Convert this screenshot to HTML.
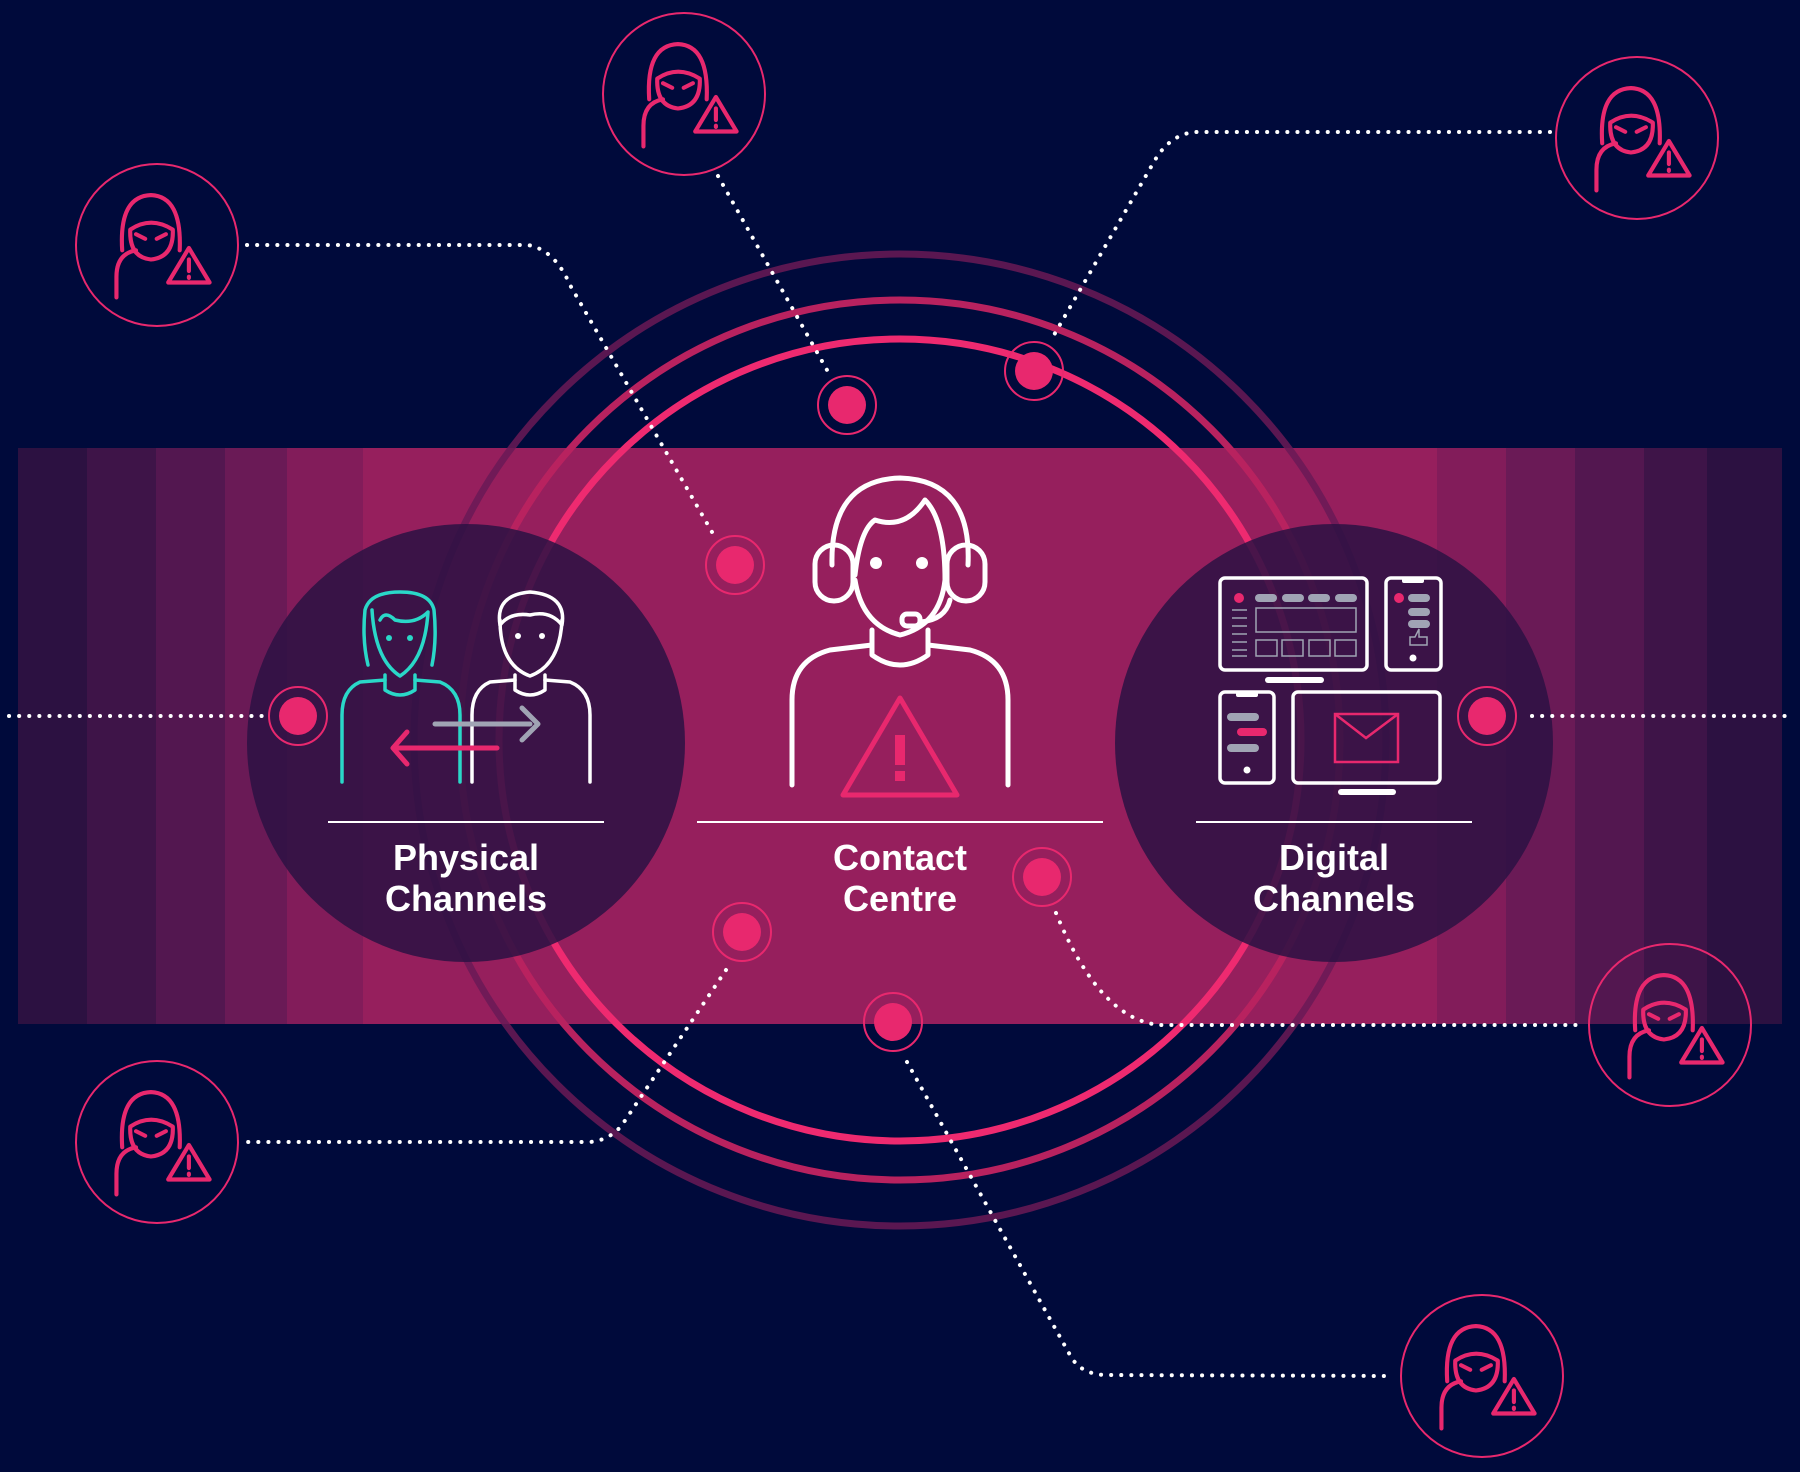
<!DOCTYPE html>
<html><head><meta charset="utf-8"><style>
html,body{margin:0;padding:0;background:#000a3b;}
svg{display:block;}
text{font-family:"Liberation Sans",sans-serif;font-weight:bold;fill:#fff;}
</style></head><body>
<svg width="1800" height="1472" viewBox="0 0 1800 1472" xmlns="http://www.w3.org/2000/svg">
<defs>
<g id="hk">
  <circle cx="0" cy="0" r="81" fill="none" stroke="#e8286e" stroke-width="2"/>
  <g transform="translate(2,3) scale(1.15)" fill="none" stroke="#e8286e" stroke-width="3.6" stroke-linecap="round" stroke-linejoin="round">
    <path d="M-37,43 L-37,25 Q-37,5 -20,2"/>
    <path d="M-32,2 Q-35,-45 -7,-46 Q20,-45 18,2"/>
    <path d="M-25,-16 Q-7,-28 12,-16 Q13,8 -7,10 Q-26,8 -25,-16Z"/>
    <path d="M-20,-12 L-12,-8 M6,-12 L-2,-8"/>
    <path d="M8,30 L26,0 L44,30 Z"/>
    <path d="M26,10 L26,20 M26,25 L26,26"/>
  </g>
</g>
<g id="dot">
  <circle r="29" fill="none" stroke="#e8286e" stroke-width="2"/>
  <circle r="19" fill="#e8286e"/>
</g>
</defs>
<rect width="1800" height="1472" fill="#000a3b"/>
<rect x="18" y="448" width="1764" height="576" fill="#961f5d"/>
<rect x="18" y="448" width="69" height="576" fill="#2c1141"/>
<rect x="87" y="448" width="69" height="576" fill="#3e1448"/>
<rect x="156" y="448" width="69" height="576" fill="#531750"/>
<rect x="225" y="448" width="62" height="576" fill="#6a1a56"/>
<rect x="287" y="448" width="76" height="576" fill="#821c5a"/>
<rect x="1437" y="448" width="69" height="576" fill="#821c5a"/>
<rect x="1506" y="448" width="69" height="576" fill="#6a1a56"/>
<rect x="1575" y="448" width="69" height="576" fill="#531750"/>
<rect x="1644" y="448" width="63" height="576" fill="#3e1448"/>
<rect x="1707" y="448" width="75" height="576" fill="#2c1141"/>
<circle cx="900" cy="740" r="486" fill="none" stroke="#6a1a56" stroke-width="7" opacity="0.85"/>
<circle cx="900" cy="740" r="440" fill="none" stroke="#b8225f" stroke-width="7"/>
<circle cx="900" cy="740" r="401" fill="none" stroke="#ee2a70" stroke-width="7"/>
<circle cx="466" cy="743" r="219" fill="#2c1243" opacity="0.85"/>
<circle cx="1334" cy="743" r="219" fill="#2c1243" opacity="0.85"/>
<g fill="none" stroke="#fff" stroke-width="4" stroke-linecap="round" stroke-dasharray="0.1 10">
  <path d="M247,245 L528,245 Q555,250 570,285 L712,532"/>
  <path d="M718,176 L827,370"/>
  <path d="M1550,132 L1194,132 Q1170,135 1155,160 L1054,335"/>
  <path d="M9,716 L262,716"/>
  <path d="M1532,716 L1791,716"/>
  <path d="M1056,913 Q1100,1020 1160,1025 L1578,1025"/>
  <path d="M726,970 L622,1125 Q610,1140 590,1142 L247,1142"/>
  <path d="M907,1062 L1070,1355 Q1080,1374 1105,1375 L1389,1376"/>
</g>
<use href="#dot" x="847" y="405"/>
<use href="#dot" x="1034" y="371"/>
<use href="#dot" x="735" y="565"/>
<use href="#dot" x="298" y="716"/>
<use href="#dot" x="1487" y="716"/>
<use href="#dot" x="1042" y="877"/>
<use href="#dot" x="742" y="932"/>
<use href="#dot" x="893" y="1022"/>
<use href="#hk" x="157" y="245"/>
<use href="#hk" x="684" y="94"/>
<use href="#hk" x="1637" y="138"/>
<use href="#hk" x="157" y="1142"/>
<use href="#hk" x="1670" y="1025"/>
<use href="#hk" x="1482" y="1376"/>
<g stroke="#fff" stroke-width="2">
<line x1="328" y1="822" x2="604" y2="822"/>
<line x1="697" y1="822" x2="1103" y2="822"/>
<line x1="1196" y1="822" x2="1472" y2="822"/>
</g>
<g font-size="36" text-anchor="middle">
<text x="466" y="870">Physical</text><text x="466" y="911">Channels</text>
<text x="900" y="870">Contact</text><text x="900" y="911">Centre</text>
<text x="1334" y="870">Digital</text><text x="1334" y="911">Channels</text>
</g>
<g fill="none" stroke="#fff" stroke-width="5" stroke-linecap="round" stroke-linejoin="round">
  <path d="M832,565 Q830,480 900,478 Q972,480 968,565"/>
  <rect x="815" y="545" width="38" height="56" rx="19"/>
  <rect x="947" y="545" width="38" height="56" rx="19"/>
  <path d="M855,575 Q860,530 875,520 Q905,530 925,500 Q945,520 945,580 Q940,625 900,635 Q862,625 855,580"/>
  <path d="M950,600 Q945,620 920,622"/>
  <rect x="902" y="614" width="18" height="12" rx="5"/>
  <path d="M872,630 L872,655 Q900,675 928,655 L928,630"/>
  <path d="M872,645 L830,650 Q792,660 792,700 L792,785"/>
  <path d="M928,645 L970,650 Q1008,660 1008,700 L1008,785"/>
</g>
<circle cx="876" cy="563" r="6" fill="#fff"/><circle cx="922" cy="563" r="6" fill="#fff"/>
<g fill="none" stroke="#e8286e" stroke-width="5" stroke-linejoin="round">
  <path d="M900,698 L843,795 L957,795 Z"/>
</g>
<rect x="895" y="735" width="10" height="30" fill="#e8286e"/><rect x="895" y="771" width="10" height="10" fill="#e8286e"/>
<g fill="none" stroke-width="3.5" stroke-linecap="round" stroke-linejoin="round">
  <g stroke="#2ad8c8">
    <path d="M368,665 Q362,640 365,610 Q370,592 400,592 Q430,592 434,610 Q437,640 432,665"/>
    <path d="M372,610 Q375,660 400,676 Q425,660 428,612 Q415,625 395,620 Q385,610 380,620"/>
    <path d="M385,675 L385,690 Q400,700 415,690 L415,675"/>
    <path d="M385,680 L360,682 Q342,690 342,715 L342,782"/>
    <path d="M415,680 L440,682 Q460,690 460,715 L460,782"/>
  </g>
  <circle cx="389" cy="638" r="3" fill="#2ad8c8" stroke="none"/><circle cx="410" cy="638" r="3" fill="#2ad8c8" stroke="none"/>
  <g stroke="#fff">
    <path d="M500,625 Q495,595 530,592 Q567,595 562,625 Q550,610 530,615 Q510,612 500,625"/>
    <path d="M500,620 Q500,665 530,676 Q560,665 562,620"/>
    <path d="M515,675 L515,690 Q530,700 545,690 L545,675"/>
    <path d="M515,680 L490,682 Q472,690 472,715 L472,782"/>
    <path d="M545,680 L570,682 Q590,690 590,715 L590,782"/>
  </g>
  <circle cx="518" cy="636" r="3" fill="#fff" stroke="none"/><circle cx="542" cy="636" r="3" fill="#fff" stroke="none"/>
  <path d="M435,724 L530,724 M522,708 L538,724 L522,740" stroke="#a0a4b4" stroke-width="5"/>
  <path d="M497,748 L395,748 M407,732 L393,748 L407,764" stroke="#e8286e" stroke-width="5"/>
</g>
<g fill="none" stroke="#fff" stroke-width="3.5" stroke-linejoin="round">
  <rect x="1220" y="578" width="147" height="92" rx="5"/>
  <rect x="1386" y="578" width="55" height="92" rx="5"/>
  <rect x="1220" y="692" width="54" height="91" rx="5"/>
  <rect x="1293" y="692" width="147" height="91" rx="5"/>
</g>
<g fill="#fff">
  <rect x="1265" y="677" width="59" height="6" rx="3"/>
  <rect x="1338" y="789" width="58" height="6" rx="3"/>
  <rect x="1402" y="578" width="22" height="5" rx="2"/>
  <rect x="1236" y="692" width="22" height="5" rx="2"/>
  <circle cx="1413" cy="658" r="3.5"/><circle cx="1247" cy="770" r="3.5"/>
</g>
<circle cx="1239" cy="598" r="5" fill="#e8286e"/><circle cx="1399" cy="598" r="5" fill="#e8286e"/>
<g fill="#a0a4b4">
  <rect x="1255" y="594" width="22" height="8" rx="4"/><rect x="1282" y="594" width="22" height="8" rx="4"/>
  <rect x="1308" y="594" width="22" height="8" rx="4"/><rect x="1335" y="594" width="22" height="8" rx="4"/>
  <rect x="1408" y="594" width="22" height="8" rx="4"/><rect x="1408" y="608" width="22" height="8" rx="4"/><rect x="1408" y="620" width="22" height="8" rx="4"/>
  <rect x="1227" y="713" width="32" height="8" rx="4"/><rect x="1227" y="744" width="32" height="8" rx="4"/>
</g>
<rect x="1237" y="728" width="30" height="8" rx="4" fill="#e8286e"/>
<g fill="none" stroke="#a0a4b4" stroke-width="1.5">
  <rect x="1256" y="608" width="100" height="24"/>
  <rect x="1256" y="640" width="21" height="16"/><rect x="1282" y="640" width="21" height="16"/>
  <rect x="1309" y="640" width="21" height="16"/><rect x="1335" y="640" width="21" height="16"/>
  <path d="M1232,610h15M1232,618h15M1232,626h15M1232,634h15M1232,642h15M1232,650h15M1232,656h15"/>
  <path d="M1410,645 v-8 h5 l4,-8 v8 h8 v8 z"/>
</g>
<g fill="none" stroke="#e8286e" stroke-width="2.5">
  <rect x="1335" y="714" width="63" height="48"/>
  <path d="M1335,714 L1366,738 L1398,714"/>
</g>
</svg>
</body></html>
